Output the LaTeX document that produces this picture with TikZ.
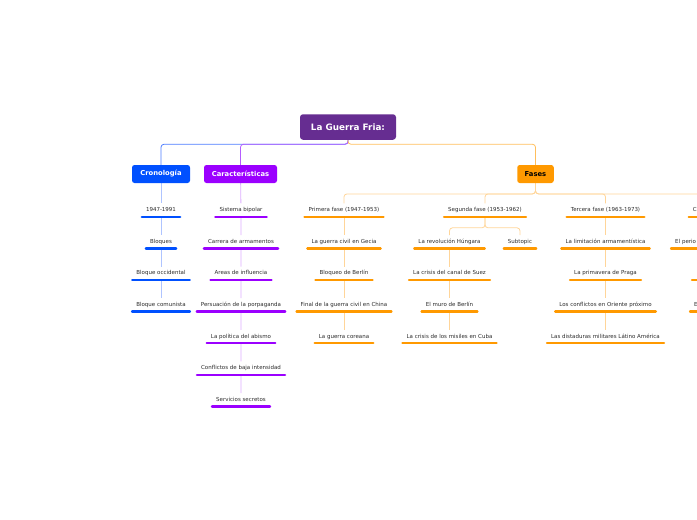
\documentclass[tikz,border=0pt]{standalone}
\usepackage{fontspec}
\setmainfont{DejaVu Sans}
\usetikzlibrary{backgrounds}

\definecolor{rootpurple}{HTML}{662D91}
\definecolor{cronoblue}{HTML}{0050FF}
\definecolor{caracpurple}{HTML}{9B00FF}
\definecolor{fasesorange}{HTML}{FF9900}
\definecolor{cronoline}{HTML}{4D7DFF}
\definecolor{caracline}{HTML}{B55CFF}
\definecolor{fasesline}{HTML}{FFBE5C}
\definecolor{cronokid}{HTML}{AFC4FF}
\definecolor{carackid}{HTML}{DDADFF}
\definecolor{faseskid}{HTML}{FFD599}
\definecolor{leaftext}{HTML}{2B2B2B}

\tikzset{
  root/.style={fill=rootpurple, text=white, rounded corners=3pt, minimum width=96pt, minimum height=25.5pt, inner sep=0pt, font=\fontsize{8.8}{10}\selectfont\bfseries},
  topic/.style={fill=#1, text=white, rounded corners=2.5pt, minimum height=18pt, inner sep=0pt, font=\fontsize{6.8}{8}\selectfont\bfseries},
  leaf/.style={anchor=base, text=leaftext, font=\fontsize{5.5}{6.6}\selectfont, inner xsep=4pt, inner ysep=3.9pt, text height=4.1pt, text depth=1.1pt,
    append after command={(\tikzlastnode.south west) edge[draw=#1, line width=2.4pt, line cap=round] (\tikzlastnode.south east)}},
  cutleaf/.style={leaf=fasesorange, text width=#1, align=left},
  link/.style={draw=#1, line width=0.8pt, rounded corners=3pt}
}

\begin{document}
\begin{tikzpicture}[x=1pt, y=-1pt]
\useasboundingbox (0,0) rectangle (697,520);

% Root
\node[root] (root) at (348,127) {La Guerra Fria:};

% Topics
\node[topic=cronoblue, minimum width=58pt] (crono) at (161,174) {Cronología};
\node[topic=caracpurple, minimum width=73pt] (carac) at (240.5,174) {Características};
\node[topic=fasesorange, text=black, minimum width=36.5pt] (fases) at (535.5,174) {Fases};

% Cronologia
\node[leaf=cronoblue] (c1) at (161,211.6) {1947-1991};
\node[leaf=cronoblue] (c2) at (161,243.2) {Bloques};
\node[leaf=cronoblue] (c3) at (161,274.8) {Bloque occidental};
\node[leaf=cronoblue] (c4) at (161,306.4) {Bloque comunista};

% Caracteristicas
\node[leaf=caracpurple] (k1) at (241,211.6) {Sistema bipolar};
\node[leaf=caracpurple] (k2) at (241,243.2) {Carrera de armamentos};
\node[leaf=caracpurple] (k3) at (241,274.8) {Areas de influencia};
\node[leaf=caracpurple] (k4) at (241,306.4) {Persuación de la porpaganda};
\node[leaf=caracpurple] (k5) at (241,338) {La política del abismo};
\node[leaf=caracpurple] (k6) at (241,369.6) {Conflictos de baja intensidad};
\node[leaf=caracpurple] (k7) at (241,401.2) {Servicios secretos};

% Primera fase
\node[leaf=fasesorange] (p0) at (344,211.6) {Primera fase (1947-1953)};
\node[leaf=fasesorange] (p1) at (344,243.2) {La guerra civil en Gecia};
\node[leaf=fasesorange] (p2) at (344,274.8) {Bloqueo de Berlín};
\node[leaf=fasesorange] (p3) at (344,306.4) {Final de la guerra civil en China};
\node[leaf=fasesorange] (p4) at (344,338) {La guerra coreana};

% Segunda fase
\node[leaf=fasesorange] (s0) at (485,211.6) {Segunda fase (1953-1962)};
\node[leaf=fasesorange] (s1) at (449.5,243.2) {La revolución Húngara};
\node[leaf=fasesorange] (sub) at (520,243.2) {Subtopic};
\node[leaf=fasesorange] (s2) at (449.5,274.8) {La crisis del canal de Suez};
\node[leaf=fasesorange] (s3) at (449.5,306.4) {El muro de Berlín};
\node[leaf=fasesorange] (s4) at (449.5,338) {La crisis de los misiles en Cuba};

% Tercera fase
\node[leaf=fasesorange] (t0) at (605.5,211.6) {Tercera fase (1963-1973)};
\node[leaf=fasesorange] (t1) at (605.5,243.2) {La limitación armamentística};
\node[leaf=fasesorange] (t2) at (605.5,274.8) {La primavera de Praga};
\node[leaf=fasesorange] (t3) at (605.5,306.4) {Los conflictos en Oriente próximo};
\node[leaf=fasesorange] (t4) at (605.5,338) {Las distaduras militares Látino América};

% Cuarta columna (cut by the edge)
\node[cutleaf=74.2pt] (q0) at (730,211.6) {C};
\node[cutleaf=109.6pt] (q1) at (730,243.2) {El perio};
\node[cutleaf=67.6pt] (q2) at (730,274.8) {};
\node[cutleaf=71.6pt] (q3) at (730,306.4) {E};

\begin{scope}[on background layer]
  % Root to topics
  \draw[link=cronoline] (root.south) -- ++(0,4.3) -| (crono.north);
  \draw[link=caracline] (root.south) -- ++(0,4.3) -| (carac.north);
  \draw[link=fasesline] (root.south) -- ++(0,4.3) -| (fases.north);

  % Topic chains
  \draw[link=cronokid] (crono) -- (c1) -- (c2) -- (c3) -- (c4);
  \draw[link=carackid] (carac) -- (k1) -- (k2) -- (k3) -- (k4) -- (k5) -- (k6) -- (k7);

  % Fases
  \draw[link=faseskid] (fases.south) -- ++(0,10.7) -| (p0.north);
  \draw[link=faseskid] (fases.south) -- ++(0,10.7) -| (s0.north);
  \draw[link=faseskid] (fases.south) -- ++(0,10.7) -| (t0.north);
  \draw[link=faseskid] (fases.south) -- ++(0,10.7) -| (q0.north);
  \draw[link=faseskid] (p0) -- (p1) -- (p2) -- (p3) -- (p4);
  \draw[link=faseskid] (s0.south) -- ++(0,11) -| (s1.north);
  \draw[link=faseskid] (s0.south) -- ++(0,11) -| (sub.north);
  \draw[link=faseskid] (s1) -- (s2) -- (s3) -- (s4);
  \draw[link=faseskid] (t0) -- (t1) -- (t2) -- (t3) -- (t4);
  \draw[link=faseskid] (q0) -- (q1) -- (q2) -- (q3);
\end{scope}
\end{tikzpicture}
\end{document}
